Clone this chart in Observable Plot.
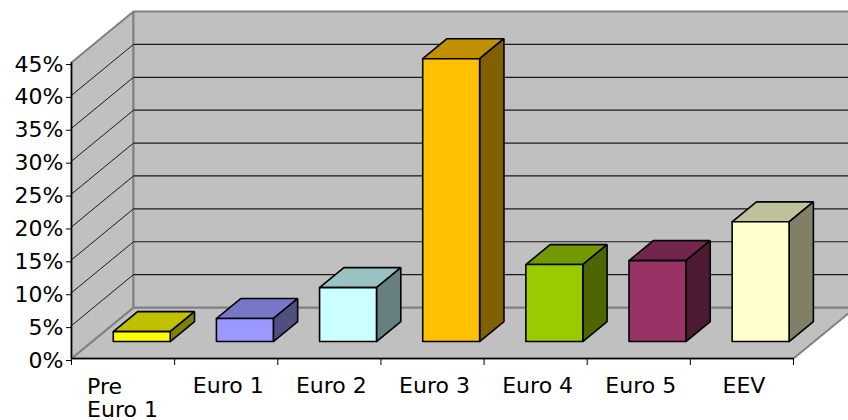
<!DOCTYPE html>
<html><head><meta charset="utf-8">
<script src="https://cdn.jsdelivr.net/npm/d3@7"></script>
<script src="https://cdn.jsdelivr.net/npm/@observablehq/plot@0.6"></script>
<style>html,body{margin:0;padding:0;background:#fff;overflow:hidden}</style>
</head><body><div id="chart"></div>
<script>
// ---- data ----
const categories = ["Pre\nEuro 1", "Euro 1", "Euro 2", "Euro 3", "Euro 4", "Euro 5", "EEV"];
const values = [1.5, 3.5, 8.2, 43.0, 11.7, 12.3, 18.2];
const frontColors = ["#FFFF00", "#9999FF", "#CCFFFF", "#FFC000", "#99CC00", "#993366", "#FFFFCC"];
const topColors   = ["#C0C000", "#7777C8", "#99C2C2", "#C09000", "#739900", "#73264D", "#C0C09A"];
const sideColors  = ["#808000", "#4F4F80", "#668080", "#806000", "#4D6600", "#4D1A33", "#808066"];
const yTicks = [0, 5, 10, 15, 20, 25, 30, 35, 40, 45];
const categoryEdges = [0, 1, 2, 3, 4, 5, 6, 7];

// ---- 3D projection (oblique) in data units ----
const N = categories.length, YMAX = 45;
const DX = 0.601, DY = 7.75;      // full depth offset in (category, %) units
const D0 = 0.333, D1 = 0.725;     // bar front / back depth
const X0 = 0.205, X1 = 0.757;     // bar extent within a category
const P = (c, v, d) => ({x: c + d * DX, y: v + d * DY});

function poly(id, fill, pts) {
  const closed = [...pts, pts[0]];
  return closed.map(p => ({id, fill, x: p.x, y: p.y}));
}

const walls = [
  ...poly("floor", "#C0C0C0", [P(0,0,0), P(N,0,0), P(N,0,1), P(0,0,1)]),
  ...poly("side", "#C0C0C0", [P(0,0,0), P(0,YMAX,0), P(0,YMAX,1), P(0,0,1)]),
  ...poly("back", "#C0C0C0", [P(0,0,1), P(N,0,1), P(N,YMAX,1), P(0,YMAX,1)])
];

const gridVals = yTicks.filter(v => v > 0 && v < YMAX);
const backGrid = gridVals.map(v => ({a: P(0, v, 1), b: P(N, v, 1)}));
const sideGrid = gridVals.map(v => ({a: P(0, v, 0), b: P(0, v, 1)}));

const faces = [];
values.forEach((v, i) => {
  faces.push(...poly(`t${i}`, topColors[i], [P(i+X0,v,D0), P(i+X1,v,D0), P(i+X1,v,D1), P(i+X0,v,D1)]));
  faces.push(...poly(`s${i}`, sideColors[i], [P(i+X1,0,D0), P(i+X1,0,D1), P(i+X1,v,D1), P(i+X1,v,D0)]));
  faces.push(...poly(`f${i}`, frontColors[i], [P(i+X0,0,D0), P(i+X1,0,D0), P(i+X1,v,D0), P(i+X0,v,D0)]));
});

const labels = categories.map((c, i) => ({label: c, x: i + 0.5}));

const chart = Plot.plot({
  width: 848,
  height: 420,
  marginLeft: 71,
  marginRight: 55,
  marginTop: 62,
  marginBottom: 62,
  style: {fontFamily: "'DejaVu Sans', Verdana, sans-serif", fontSize: "22px", background: "#fff", color: "#000"},
  x: {domain: [0, N]},
  y: {domain: [0, YMAX]},
  color: {type: "identity"},
  marks: [
    Plot.line(walls, {x: "x", y: "y", z: "id", fill: "fill", stroke: "#808080", strokeWidth: 2, strokeLinejoin: "miter"}),
    Plot.link(backGrid, {x1: d => d.a.x, y1: d => d.a.y, x2: d => d.b.x, y2: d => d.b.y, stroke: "#1a1a1a", strokeWidth: 1.2}),
    Plot.link(sideGrid, {x1: d => d.a.x, y1: d => d.a.y, x2: d => d.b.x, y2: d => d.b.y, stroke: "#1a1a1a", strokeWidth: 1}),
    Plot.line(faces, {x: "x", y: "y", z: "id", fill: "fill", stroke: "#000", strokeWidth: 1.6, strokeLinejoin: "miter"}),
    Plot.ruleX([0], {y1: 0, y2: YMAX, stroke: "#000", strokeWidth: 1.5}),
    Plot.ruleY([0], {x1: 0, x2: N, stroke: "#000", strokeWidth: 1.5}),
    Plot.axisY({ticks: yTicks, tickFormat: d => d + "%", tickSize: 5, tickPadding: 3, label: null, dy: 2, fontSize: 22}),
    Plot.axisX({ticks: categoryEdges, tickFormat: () => "", tickSize: 7, label: null}),
    Plot.text(labels.slice(0, 1), {x: "x", y: 0, text: "label", textAnchor: "start", lineAnchor: "top", lineHeight: 1.05, dx: -36, dy: 19, fontSize: 22}),
    Plot.text(labels.slice(1), {x: "x", y: 0, text: "label", lineAnchor: "top", dx: 2, dy: 19, fontSize: 22})
  ]
});
document.getElementById("chart").appendChild(chart);
</script>
</body></html>
